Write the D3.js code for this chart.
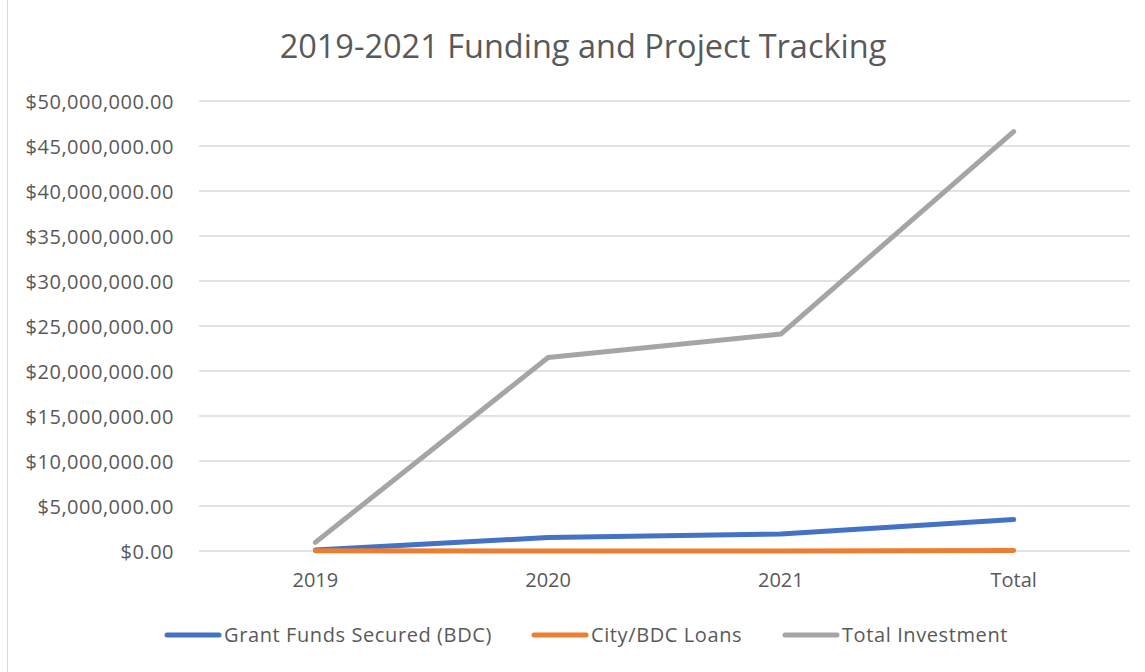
<!DOCTYPE html>
<html>
<head>
<meta charset="utf-8">
<script src="https://cdn.jsdelivr.net/npm/d3@7"></script>
<style>
  body { margin: 0; background: #fff; }
  svg text { font-family: "Open Sans", sans-serif; fill: #595959; }
</style>
</head>
<body>
<svg id="chart"></svg>
<script>
// categories and series
var categories = ["2019", "2020", "2021", "Total"];
var grantFunds = [100000, 1500000, 1900000, 3500000];
var cityLoans = [20000, 10000, 10000, 50000];
var totalInvestment = [960000, 21500000, 24100000, 46600000];
var yTicks = [0, 5e6, 10e6, 15e6, 20e6, 25e6, 30e6, 35e6, 40e6, 45e6, 50e6];

var seriesNames = ["Grant Funds Secured (BDC)", "City/BDC Loans", "Total Investment"];
var seriesColors = ["#4472C4", "#ED7D31", "#A5A5A5"];

var width = 1145, height = 672;
var margin = {top: 101, right: 15, bottom: 121, left: 199};

var svg = d3.select("#chart").attr("width", width).attr("height", height);

// outer frame (only the left edge shows in the picture)
svg.append("rect")
    .attr("x", 7.5).attr("y", -2)
    .attr("width", width + 10).attr("height", height + 10)
    .attr("fill", "#fff").attr("stroke", "#D9D9D9");

var plotW = width - margin.left - margin.right;
var plotH = height - margin.top - margin.bottom;

var g = svg.append("g")
    .attr("transform", "translate(" + margin.left + "," + margin.top + ")");

var x = d3.scaleBand().domain(categories).range([0, plotW]);
var y = d3.scaleLinear().domain([0, 50e6]).range([plotH, 0]);

var fmt = function (d) { return "$" + d3.format(",.2f")(d); };

// gridlines
g.append("g")
    .selectAll("line")
    .data(yTicks)
    .enter().append("line")
    .attr("x1", 0).attr("x2", plotW)
    .attr("y1", function (d) { return y(d); })
    .attr("y2", function (d) { return y(d); })
    .attr("stroke", "#D9D9D9")
    .attr("stroke-width", 1.3);

// y axis labels
var yAxis = g.append("g")
    .call(d3.axisLeft(y).tickValues(yTicks).tickFormat(fmt).tickSize(0).tickPadding(25));
yAxis.select(".domain").remove();
yAxis.selectAll("text")
    .style("font-size", "20px")
    .style("letter-spacing", "0.5px")
    .style("font-family", "Open Sans")
    .style("fill", "#595959")
    .attr("dy", "0.35em");

// x axis labels
var xAxis = g.append("g")
    .attr("transform", "translate(0," + plotH + ")")
    .call(d3.axisBottom(x).tickSize(0).tickPadding(22));
xAxis.select(".domain").remove();
xAxis.selectAll("text")
    .style("font-size", "20px")
    .style("font-family", "Open Sans")
    .style("fill", "#595959");

// lines
var line = d3.line()
    .x(function (d, i) { return x(categories[i]) + x.bandwidth() / 2; })
    .y(function (d) { return y(d); });

var allSeries = [grantFunds, cityLoans, totalInvestment];

g.selectAll(".series")
    .data(allSeries)
    .enter().append("path")
    .attr("class", "series")
    .attr("d", line)
    .attr("fill", "none")
    .attr("stroke", function (d, i) { return seriesColors[i]; })
    .attr("stroke-width", 5)
    .attr("stroke-linecap", "round")
    .attr("stroke-linejoin", "round");

// title
svg.append("text")
    .attr("x", 583)
    .attr("y", 58)
    .attr("text-anchor", "middle")
    .style("font-size", "32.5px")
    .text("2019-2021 Funding and Project Tracking");

// legend
var legendX = [166, 533, 784];
var legend = svg.append("g")
    .selectAll("g")
    .data(seriesNames)
    .enter().append("g")
    .attr("transform", function (d, i) { return "translate(" + legendX[i] + ",635)"; });

legend.append("line")
    .attr("x1", 1).attr("x2", 53)
    .attr("y1", 0).attr("y2", 0)
    .attr("stroke", function (d, i) { return seriesColors[i]; })
    .attr("stroke-width", 5)
    .attr("stroke-linecap", "round");

legend.append("text")
    .attr("x", 58)
    .attr("dy", "0.35em")
    .style("font-size", "20px")
    .style("letter-spacing", "0.6px")
    .text(function (d) { return d; });
</script>
</body>
</html>
